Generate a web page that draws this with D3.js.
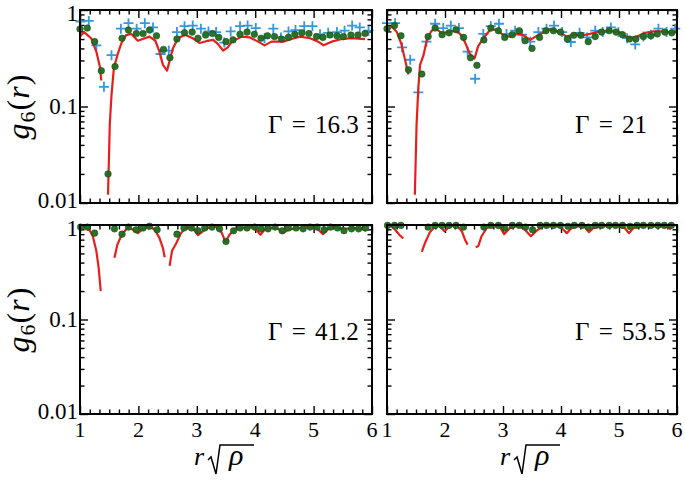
<!DOCTYPE html>
<html><head><meta charset="utf-8">
<script src="https://cdn.jsdelivr.net/npm/d3@7"></script>
<style>
html,body{margin:0;padding:0;background:#fff;}
svg{display:block;}
svg text{font-family:"Liberation Serif","Tinos","Times New Roman","DejaVu Serif",serif;fill:#000;}
</style></head>
<body><svg id="chart" width="685" height="480" font-family="Liberation Serif, DejaVu Serif, serif"></svg>
<script>
// ---------------- DATA ----------------
const xTickValues = [1, 2, 3, 4, 5, 6];
const xTickLabels = ["1", "2", "3", "4", "5", "6"];
const yTickValues = [0.01, 0.1, 1];
const yTickLabels = ["0.01", "0.1", "1"];
const gammaLabels = ["\u0393 = 16.3", "\u0393 = 21", "\u0393 = 41.2", "\u0393 = 53.5"];

// Gamma = 16.3
const lineG163 = [[1.0,0.53],[1.07,0.59],[1.19,0.51],[1.28,0.37],[1.34,0.26],[1.365,0.186],null,[1.48,0.0122],[1.51,0.065],[1.54,0.133],[1.58,0.25],[1.64,0.34],[1.71,0.455],[1.79,0.55],[1.88,0.565],[1.99,0.48],[2.11,0.51],[2.19,0.53],[2.29,0.48],[2.36,0.37],[2.42,0.27],[2.49,0.235],[2.53,0.29],[2.59,0.40],[2.68,0.51],[2.80,0.555],[2.93,0.51],[3.05,0.455],[3.16,0.475],[3.28,0.49],[3.36,0.445],[3.45,0.38],[3.53,0.41],[3.60,0.47],[3.77,0.53],[3.91,0.52],[4.05,0.47],[4.16,0.43],[4.28,0.47],[4.48,0.47],[4.62,0.50],[4.77,0.53],[4.94,0.51],[5.08,0.47],[5.17,0.43],[5.31,0.47],[5.48,0.50],[5.65,0.51],[5.88,0.50]];
const dotsG163 = [[1.0,0.635],[1.125,0.65],[1.25,0.47],[1.365,0.235],[1.48,0.02],[1.6,0.26],[1.72,0.51],[1.83,0.62],[1.965,0.57],[2.08,0.57],[2.19,0.62],[2.31,0.54],[2.43,0.39],[2.54,0.32],[2.66,0.50],[2.79,0.58],[2.92,0.59],[3.02,0.51],[3.15,0.55],[3.27,0.57],[3.375,0.52],[3.5,0.47],[3.62,0.49],[3.74,0.56],[3.86,0.59],[3.985,0.56],[4.10,0.51],[4.21,0.54],[4.33,0.53],[4.45,0.50],[4.57,0.52],[4.68,0.56],[4.80,0.58],[4.92,0.57],[5.05,0.53],[5.16,0.52],[5.28,0.55],[5.40,0.54],[5.51,0.53],[5.64,0.55],[5.76,0.55],[5.88,0.57]];
const plusG163 = [[1.01,0.76],[1.15,0.77],[1.28,0.43],[1.41,0.16],[1.54,0.34],[1.70,0.64],[1.83,0.73],[1.97,0.64],[2.11,0.73],[2.25,0.66],[2.38,0.35],[2.52,0.38],[2.66,0.59],[2.79,0.68],[2.93,0.69],[3.07,0.64],[3.20,0.60],[3.33,0.59],[3.47,0.46],[3.58,0.60],[3.74,0.68],[3.87,0.69],[4.01,0.65],[4.16,0.51],[4.31,0.64],[4.44,0.52],[4.57,0.60],[4.69,0.62],[4.84,0.68],[4.98,0.68],[5.11,0.56],[5.25,0.58],[5.40,0.59],[5.53,0.61],[5.66,0.69],[5.79,0.66],[5.94,0.61]];

// Gamma = 21
const lineG21 = [[1.0,0.60],[1.08,0.68],[1.17,0.59],[1.25,0.44],[1.32,0.29],[1.37,0.214],null,[1.48,0.0122],[1.51,0.065],[1.54,0.155],[1.57,0.27],[1.63,0.34],[1.68,0.47],[1.76,0.60],[1.83,0.65],[1.94,0.58],[2.06,0.59],[2.17,0.61],[2.26,0.565],[2.34,0.47],[2.43,0.35],[2.51,0.315],[2.57,0.42],[2.66,0.51],[2.78,0.625],[2.89,0.625],[3.01,0.547],[3.12,0.53],[3.24,0.565],[3.35,0.547],[3.47,0.49],[3.64,0.565],[3.81,0.625],[3.95,0.60],[4.10,0.53],[4.21,0.555],[4.38,0.547],[4.50,0.565],[4.67,0.60],[4.84,0.61],[5.02,0.58],[5.16,0.51],[5.31,0.53],[5.45,0.58],[5.59,0.60],[5.76,0.60],[5.91,0.58],[5.99,0.60]];
const dotsG21 = [[1.0,0.64],[1.13,0.69],[1.24,0.54],[1.37,0.24],[1.60,0.217],[1.71,0.53],[1.83,0.65],[1.95,0.555],[2.07,0.58],[2.19,0.625],[2.32,0.52],[2.44,0.32],[2.55,0.267],[2.67,0.49],[2.79,0.65],[2.92,0.61],[3.03,0.52],[3.16,0.555],[3.28,0.61],[3.38,0.48],[3.50,0.40],[3.63,0.52],[3.74,0.61],[3.87,0.61],[3.99,0.59],[4.11,0.50],[4.22,0.547],[4.34,0.547],[4.47,0.47],[4.59,0.53],[4.70,0.59],[4.83,0.61],[4.95,0.59],[5.06,0.555],[5.18,0.50],[5.29,0.50],[5.42,0.53],[5.55,0.54],[5.66,0.565],[5.79,0.59],[5.91,0.58]];
const plusG21 = [[1.0,0.73],[1.14,0.73],[1.26,0.41],[1.40,0.305],[1.54,0.14],[1.68,0.47],[1.83,0.72],[1.97,0.65],[2.10,0.69],[2.24,0.65],[2.39,0.37],[2.52,0.194],[2.66,0.565],[2.79,0.68],[2.93,0.72],[3.06,0.565],[3.21,0.61],[3.33,0.555],[3.47,0.47],[3.61,0.59],[3.75,0.64],[3.88,0.69],[4.02,0.59],[4.17,0.466],[4.32,0.58],[4.45,0.52],[4.59,0.61],[4.72,0.59],[4.86,0.66],[4.99,0.59],[5.14,0.51],[5.28,0.44],[5.42,0.53],[5.55,0.555],[5.68,0.64],[5.82,0.59],[5.97,0.64]];

// Gamma = 41.2
const lineG412 = [[1.0,0.97],[1.08,0.95],[1.17,0.87],[1.22,0.76],[1.28,0.53],[1.32,0.35],[1.355,0.20],null,[1.59,0.45],[1.64,0.62],[1.71,0.78],[1.82,0.95],[1.91,0.89],[1.99,0.82],[2.08,0.91],[2.19,0.97],[2.28,0.89],[2.36,0.73],[2.42,0.57],[2.45,0.455],null,[2.535,0.37],[2.575,0.53],[2.65,0.645],[2.73,0.82],[2.82,0.95],[2.93,0.93],[3.02,0.78],[3.135,0.89],[3.25,0.97],[3.36,0.95],[3.43,0.82],[3.49,0.66],[3.56,0.79],[3.65,0.89],[3.76,0.93],[3.93,0.95],[4.02,0.89],[4.09,0.79],[4.16,0.89],[4.33,0.95],[4.42,0.89],[4.48,0.82],[4.56,0.89],[4.73,0.93],[4.90,0.95],[5.05,0.93],[5.16,0.80],[5.25,0.91],[5.36,0.95],[5.53,0.91],[5.70,0.93],[5.82,0.91],[5.90,0.87]];
const dotsG412 = [[1.01,0.95],[1.125,0.95],[1.25,0.82],[1.59,0.91],[1.72,0.80],[1.83,0.95],[1.96,0.89],[2.08,0.93],[2.19,0.97],[2.32,0.89],[2.66,0.80],[2.78,0.93],[2.91,0.93],[3.02,0.87],[3.135,0.93],[3.26,0.95],[3.39,0.91],[3.50,0.67],[3.63,0.87],[3.74,0.93],[3.86,0.93],[3.99,0.95],[4.10,0.91],[4.22,0.91],[4.34,0.95],[4.46,0.87],[4.57,0.93],[4.70,0.93],[4.82,0.91],[4.94,0.95],[5.06,0.95],[5.18,0.89],[5.29,0.95],[5.41,0.93],[5.52,0.87],[5.65,0.91],[5.77,0.91],[5.89,0.93]];

// Gamma = 53.5
const lineG535 = [[1.0,0.99],[1.05,1.0],[1.14,0.89],[1.22,0.78],[1.28,0.72],null,[1.60,0.52],[1.655,0.645],[1.74,0.84],[1.83,0.97],[1.91,0.97],[1.99,0.86],[2.09,0.97],[2.20,0.99],[2.29,0.86],[2.345,0.70],[2.39,0.62],null,[2.53,0.58],[2.575,0.60],[2.63,0.76],[2.72,0.93],[2.83,0.99],[2.95,0.95],[3.02,0.80],[3.12,0.93],[3.26,0.99],[3.38,0.89],[3.48,0.76],[3.58,0.87],[3.69,0.97],[3.95,0.97],[4.01,0.93],[4.10,0.82],[4.18,0.93],[4.30,0.97],[4.41,0.95],[4.48,0.84],[4.56,0.93],[4.76,0.97],[4.93,0.99],[5.10,0.93],[5.17,0.82],[5.25,0.93],[5.39,0.97],[5.62,0.97],[5.79,0.97],[5.88,0.91],[5.92,0.99]];
const dotsG535 = [[1.01,0.99],[1.13,0.99],[1.24,0.99],[1.71,0.95],[1.83,0.99],[1.95,0.99],[2.07,0.99],[2.19,0.99],[2.32,0.95],[2.67,0.95],[2.79,0.99],[2.92,0.99],[3.03,0.93],[3.16,0.99],[3.28,0.99],[3.39,0.95],[3.51,0.89],[3.64,0.99],[3.75,0.99],[3.87,0.99],[3.99,0.99],[4.12,0.97],[4.23,0.99],[4.36,0.99],[4.47,0.95],[4.59,0.99],[4.70,0.99],[4.83,0.99],[4.94,0.99],[5.06,0.99],[5.19,0.97],[5.31,0.99],[5.42,0.99],[5.55,0.99],[5.67,0.99],[5.78,0.99],[5.90,0.99]];

// ---------------- LAYOUT ----------------
const panels = [
  {x0:80,  x1:372, y0:10,  y1:203, line:lineG163, dots:dotsG163, plus:plusG163, label:gammaLabels[0], left:true,  bottom:false, lblY:133},
  {x0:387, x1:677, y0:10,  y1:203, line:lineG21,  dots:dotsG21,  plus:plusG21,  label:gammaLabels[1], left:false, bottom:false, lblY:133},
  {x0:80,  x1:372, y0:225, y1:414, line:lineG412, dots:dotsG412, plus:[],       label:gammaLabels[2], left:true,  bottom:true,  lblY:340},
  {x0:387, x1:677, y0:225, y1:414, line:lineG535, dots:dotsG535, plus:[],       label:gammaLabels[3], left:false, bottom:true,  lblY:340}
];

const RED = "#e5201c", GREEN = "#1f6b1f", BLUE = "#3597dc";
const FONT = "Liberation Serif, Tinos, DejaVu Serif, serif";
const svg = d3.select("#chart");

const xMinor = d3.range(1, 6.0001, 1/6).filter(v => Math.abs(v - Math.round(v)) > 1e-6);
const yMinor = [];
[0.01, 0.1].forEach(d => { for (let k = 2; k <= 9; k++) yMinor.push(k * d); });
// baseline offsets of y tick labels (top label nudged down so it stays on the page)
const yLabelShift = v => (v === 1 ? 10.5 : v === 0.01 ? 5 : 7.5);

panels.forEach(p => {
  const x = d3.scaleLinear().domain([1, 6]).range([p.x0, p.x1]);
  const y = d3.scaleLog().domain([0.01, 1]).range([p.y1, p.y0]);
  const g = svg.append("g");

  const mk = (axis, tr, vals, size) => {
    const a = g.append("g").attr("transform", tr)
      .call(axis.tickValues(vals).tickSize(size).tickFormat(""));
    a.select(".domain").remove();
    a.selectAll("line").attr("stroke", "#000").attr("stroke-width", 1.4);
  };
  mk(d3.axisBottom(x), `translate(0,${p.y1})`, xTickValues, -8);
  mk(d3.axisBottom(x), `translate(0,${p.y1})`, xMinor, -4.5);
  mk(d3.axisTop(x), `translate(0,${p.y0})`, xTickValues, -8);
  mk(d3.axisTop(x), `translate(0,${p.y0})`, xMinor, -4.5);
  mk(d3.axisLeft(y), `translate(${p.x0},0)`, yTickValues, -8);
  mk(d3.axisLeft(y), `translate(${p.x0},0)`, yMinor, -4.5);
  mk(d3.axisRight(y), `translate(${p.x1},0)`, yTickValues, -8);
  mk(d3.axisRight(y), `translate(${p.x1},0)`, yMinor, -4.5);

  const ps = 5;
  g.append("g").selectAll("path").data(p.plus).join("path")
    .attr("d", d => `M${x(d[0]) - ps},${y(d[1])}H${x(d[0]) + ps}M${x(d[0])},${y(d[1]) - ps}V${y(d[1]) + ps}`)
    .attr("stroke", BLUE).attr("stroke-width", 1.8).attr("fill", "none");

  const lineGen = d3.line().defined(d => d !== null).x(d => x(d[0])).y(d => y(d[1]));
  g.append("path").datum(p.line).attr("d", lineGen)
    .attr("fill", "none").attr("stroke", RED).attr("stroke-width", 2.2).attr("stroke-linejoin", "round");

  g.append("g").selectAll("circle").data(p.dots).join("circle")
    .attr("cx", d => x(d[0])).attr("cy", d => y(d[1])).attr("r", 3.3)
    .attr("fill", GREEN).attr("fill-opacity", 0.95).attr("stroke", "#124812").attr("stroke-width", 0.5);

  g.append("rect").attr("x", p.x0).attr("y", p.y0).attr("width", p.x1 - p.x0).attr("height", p.y1 - p.y0)
    .attr("fill", "none").attr("stroke", "#000").attr("stroke-width", 2);

  g.append("text").attr("x", p.x0 + 188).attr("y", p.lblY).attr("font-family", FONT).attr("font-size", 25)
    .attr("word-spacing", 3).text(p.label);

  if (p.left) {
    g.append("g").selectAll("text").data(yTickValues).join("text")
      .attr("x", p.x0 - 2).attr("y", d => y(d) + yLabelShift(d)).attr("text-anchor", "end")
      .attr("font-family", FONT).attr("font-size", 23)
      .text((d, i) => yTickLabels[i]);
    const cy = (p.y0 + p.y1) / 2;
    const t = g.append("text").attr("transform", `translate(29,${cy}) rotate(-90)`)
      .attr("text-anchor", "middle").attr("font-family", FONT).attr("font-size", 32).attr("letter-spacing", 1);
    t.append("tspan").attr("font-style", "italic").text("g");
    t.append("tspan").attr("font-size", 22).attr("dy", 6).text("6");
    t.append("tspan").attr("dy", -6).text("(");
    t.append("tspan").attr("font-style", "italic").text("r");
    t.append("tspan").text(")");
  }
  if (p.bottom) {
    g.append("g").selectAll("text").data(xTickValues).join("text")
      .attr("x", d => x(d)).attr("y", 437).attr("text-anchor", "middle").attr("font-family", FONT).attr("font-size", 22)
      .text((d, i) => xTickLabels[i]);
    const cx = (p.x0 + p.x1) / 2;
    g.append("text").attr("x", cx - 32).attr("y", 465).attr("font-family", FONT).attr("font-size", 26).attr("font-style", "italic").text("r");
    g.append("path")
      .attr("d", `M${cx - 18},${460} L${cx - 15},${457} L${cx - 10},${474} L${cx - 6},${445} L${cx + 28},${445}`)
      .attr("fill", "none").attr("stroke", "#000").attr("stroke-width", 1.5).attr("stroke-linejoin", "miter");
    g.append("text").attr("x", cx + 3).attr("y", 465).attr("font-family", FONT).attr("font-size", 30).attr("font-style", "italic").text("\u03C1");
  }
});
</script></body></html>
